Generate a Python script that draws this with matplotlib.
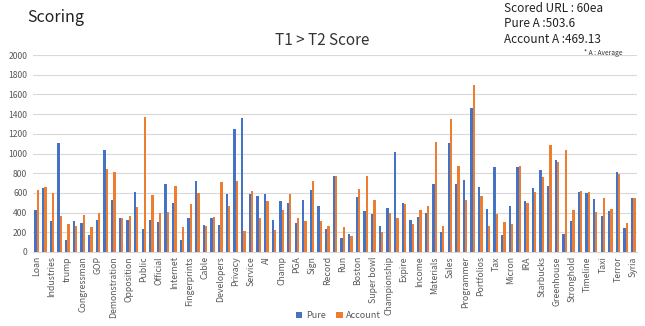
import matplotlib
matplotlib.use("Agg")
import matplotlib.pyplot as plt
import numpy as np

plt.rcParams['font.family'] = ['Noto Sans CJK KR', 'DejaVu Sans']

# Visible tick labels (every other category is labelled)
tick_labels = ["Loan", "Industries", "trump", "Congressman", "GOP", "Demonstration",
               "Opposition", "Public", "Official", "Internet", "Fingerprints", "Cable",
               "Developers", "Privacy", "Service", "AI", "Champ", "PGA", "Sign", "Record",
               "Run", "Boston", "Super bowl", "Championship", "Expire", "Income",
               "Materials", "Sales", "Programmer", "Portfolios", "Tax", "Micron", "IRA",
               "Starbucks", "Greenhouse", "Stronghold", "Timeline", "Taxi", "Terror", "Syria"]

pure = [423, 648, 312, 1112, 118, 312, 296, 175, 329, 1035,
        528, 346, 329, 608, 235, 329, 306, 692, 494, 118,
        349, 722, 276, 346, 276, 591, 1253, 1364, 591, 571,
        591, 323, 517, 494, 299, 531, 625, 470, 235, 773,
        138, 178, 561, 413, 386, 265, 450, 1011, 494, 329,
        356, 393, 692, 202, 1105, 692, 732, 1465, 662, 433,
        860, 168, 470, 864, 517, 645, 833, 669, 931, 185,
        319, 612, 601, 541, 370, 420, 810, 239, 548]

account = [632, 662, 595, 366, 286, 262, 373, 252, 396, 840,
           813, 349, 366, 454, 1371, 578, 393, 403, 669, 249,
           487, 598, 262, 360, 709, 470, 722, 212, 622, 349,
           517, 222, 427, 591, 343, 316, 722, 312, 262, 776,
           252, 165, 638, 769, 531, 208, 396, 349, 487, 289,
           427, 470, 1122, 259, 1347, 874, 524, 1693, 564, 262,
           383, 306, 289, 874, 494, 608, 766, 1085, 914, 1038,
           427, 622, 608, 403, 548, 440, 796, 299, 544]

blue = "#4472C4"
orange = "#ED7D31"

fig = plt.figure(figsize=(6.45, 3.26), dpi=100)
ax = fig.add_axes([0.051, 0.227, 0.937, 0.604])

n = len(pure)
x = np.arange(n)
w = 0.3
ax.bar(x - w / 2, pure, width=w, color=blue, label="Pure", zorder=3)
ax.bar(x + w / 2, account, width=w, color=orange, label="Account", zorder=3)

ax.set_xlim(-0.5, n - 0.5)
ax.set_ylim(0, 2000)
ax.set_yticks(np.arange(0, 2001, 200))
ax.yaxis.grid(True, color="#D9D9D9", linewidth=0.8, zorder=0)
ax.tick_params(axis='y', length=0, labelsize=6.2, labelcolor="#595959", pad=4)
ax.set_xticks(x[::2])
ax.set_xticklabels(tick_labels, rotation=90, fontsize=6.3, color="#595959")
ax.tick_params(axis='x', length=0, pad=3)
for s in ["top", "right", "left"]:
    ax.spines[s].set_visible(False)
ax.spines["bottom"].set_color("#D9D9D9")

fig.text(0.5, 0.875, "T1 > T2 Score", ha="center", va="center", fontsize=11, color="#333333")
fig.text(0.043, 0.945, "Scoring", ha="left", va="center", fontsize=11.5, color="#222222")
fig.text(0.782, 0.975, "Scored URL : 60ea", ha="left", va="center", fontsize=8.5, color="#222222")
fig.text(0.782, 0.927, "Pure A :503.6", ha="left", va="center", fontsize=8.5, color="#222222")
fig.text(0.782, 0.878, "Account A :469.13", ha="left", va="center", fontsize=8.5, color="#222222")
fig.text(0.905, 0.838, "* A : Average", ha="left", va="center", fontsize=4.8, color="#333333")

fig.legend(loc="center", bbox_to_anchor=(0.525, 0.032), ncol=2, frameon=False,
           fontsize=6.5, handlelength=0.7, handleheight=0.7, columnspacing=1.2,
           handletextpad=0.4, labelcolor="#595959")

fig.savefig("out.png", dpi=100)
